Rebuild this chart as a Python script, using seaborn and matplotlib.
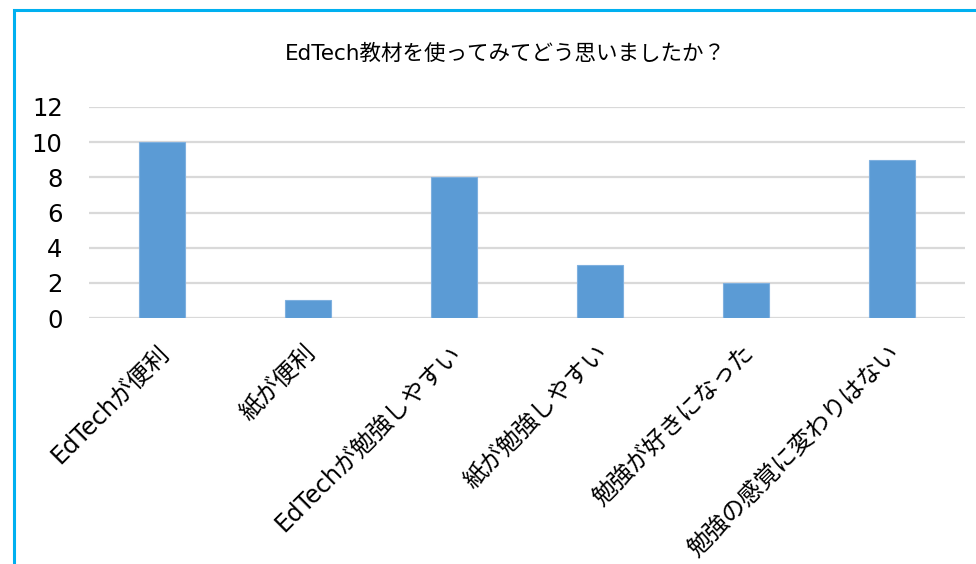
import matplotlib
matplotlib.use("Agg")
import matplotlib.pyplot as plt
import matplotlib.transforms as mtransforms
from matplotlib.patches import Rectangle
import seaborn as sns
import pandas as pd

categories = ["EdTechが便利", "紙が便利", "EdTechが勉強しやすい",
              "紙が勉強しやすい", "勉強が好きになった", "勉強の感覚に変わりはない"]
counts = [10, 1, 8, 3, 2, 9]
yticks = [0, 2, 4, 6, 8, 10, 12]
title = "EdTech教材を使ってみてどう思いましたか？"

sns.set_theme(style="white")
# Latin glyphs from DejaVu Sans, Japanese falls back to Noto Sans CJK JP
plt.rcParams["font.family"] = ["DejaVu Sans", "Noto Sans CJK JP"]

df = pd.DataFrame({"answer": categories, "count": counts})

fig = plt.figure(figsize=(9.76, 5.64), dpi=100)
ax = fig.add_axes([89 / 976, 1 - 318 / 564, (965 - 89) / 976, (318 - 107) / 564])

sns.barplot(data=df, x="answer", y="count", color="#5B9BD5", width=0.31,
            saturation=1, edgecolor="#7FB0DF", linewidth=0.8, ax=ax, zorder=3)

ax.set_ylim(0, 12)
ax.set_yticks(yticks)
ax.set_xlim(-0.5, len(categories) - 0.5)
ax.yaxis.grid(True, color="#D9D9D9", linewidth=1.6, zorder=0)
ax.set_axisbelow(True)
for s in ax.spines.values():
    s.set_visible(False)
ax.set_xlabel("")
ax.set_ylabel("")
ax.tick_params(axis="y", labelsize=17.5, length=0, pad=19, colors="#000000")
ax.tick_params(axis="x", labelsize=17.3, length=0, pad=16, colors="#000000")
shift = mtransforms.ScaledTranslation(-0.05, 0, fig.dpi_scale_trans)
for lbl in ax.get_xticklabels():
    lbl.set_rotation(45)
    lbl.set_horizontalalignment("right")
    lbl.set_rotation_mode("anchor")
    lbl.set_transform(lbl.get_transform() + shift)

fig.text(505 / 976, 1 - 54 / 564, title, ha="center", va="center",
         fontsize=15.5, color="#000000")

fig.patches.append(Rectangle((14 / 976, -0.2), 1.2, (564 - 10) / 564 + 0.2,
                             transform=fig.transFigure, fill=False,
                             edgecolor="#00B0F0", linewidth=2.2))

fig.savefig("out.png", dpi=100)
